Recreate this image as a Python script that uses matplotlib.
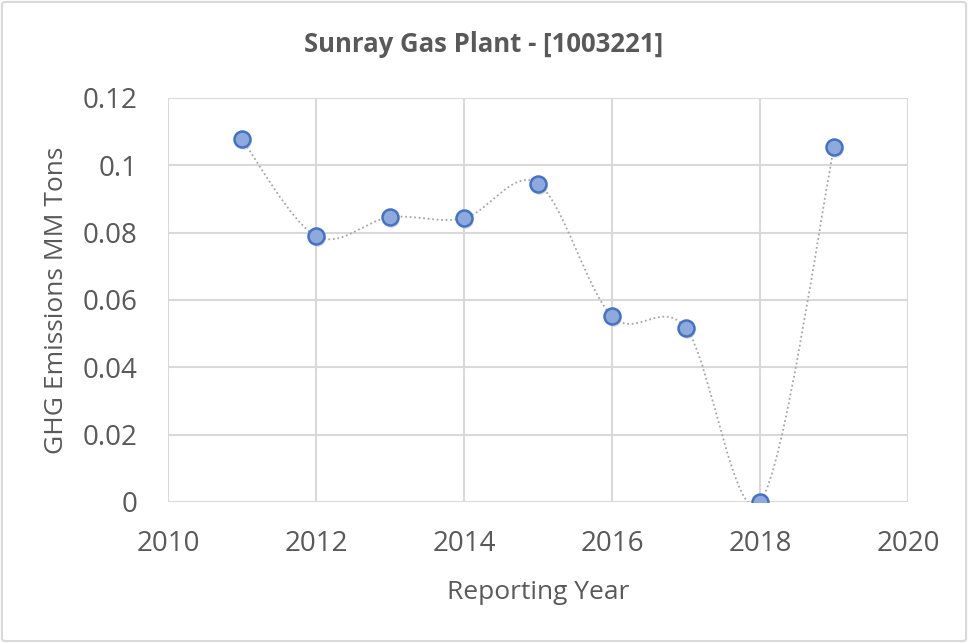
import matplotlib
matplotlib.use("Agg")
import matplotlib.pyplot as plt
import matplotlib.transforms as mtransforms
from matplotlib.path import Path
from matplotlib.patches import PathPatch, FancyBboxPatch
import numpy as np

# Datos
anios = [2011, 2012, 2013, 2014, 2015, 2016, 2017, 2018, 2019]
emisiones = [0.1077, 0.0790, 0.0846, 0.0843, 0.0946, 0.0552, 0.0516, 0.0, 0.1053]

titulo = "Sunray Gas Plant - [1003221]"
etiqueta_x = "Reporting Year"
etiqueta_y = "GHG Emissions MM Tons"

gris_texto = "#595959"
gris_rejilla = "#D9D9D9"

plt.rcParams['font.family'] = ['Open Sans', 'DejaVu Sans']

fig = plt.figure(figsize=(9.68, 6.43), dpi=100)
ax = fig.add_axes([168 / 968, 1 - 502 / 643, 740 / 968, 404 / 643])

# Borde exterior del grafico
borde = FancyBboxPatch((0.002, 0.003), 0.996, 0.994, boxstyle="round,pad=0,rounding_size=0.004",
                       transform=fig.transFigure, fill=False, edgecolor="#D9D9D9", linewidth=1.5)
fig.patches.append(borde)

# Linea suavizada tipo Excel (curvas Bezier entre puntos)
x = np.array(anios, dtype=float)
y = np.array(emisiones, dtype=float)
verts = [(x[0], y[0])]
codes = [Path.MOVETO]
n = len(x)
for i in range(n - 1):
    p0 = (x[i - 1], y[i - 1]) if i > 0 else (x[i], y[i])
    p1 = (x[i], y[i])
    p2 = (x[i + 1], y[i + 1])
    p3 = (x[i + 2], y[i + 2]) if i + 2 < n else p2
    c1 = (p1[0] + (p2[0] - p0[0]) / 6, p1[1] + (p2[1] - p0[1]) / 6)
    c2 = (p2[0] - (p3[0] - p1[0]) / 6, p2[1] - (p3[1] - p1[1]) / 6)
    verts += [c1, c2, p2]
    codes += [Path.CURVE4, Path.CURVE4, Path.CURVE4]
curva = PathPatch(Path(verts, codes), fill=False, edgecolor="#A6A6A6",
                  linewidth=1.3, linestyle=(0, (1, 1.5)), zorder=3)
ax.add_patch(curva)

# Sombra de los marcadores
sombra = ax.transData + mtransforms.ScaledTranslation(1 / 100, -2 / 100, fig.dpi_scale_trans)
ax.plot(anios, emisiones, linestyle="none", marker="o", markersize=12,
        markerfacecolor="#BBBBBB", markeredgecolor="none", alpha=0.5, zorder=3, transform=sombra)
ax.plot(anios, emisiones, linestyle="none", marker="o", markersize=11.5,
        markerfacecolor="#8EA9DB", markeredgecolor="#4472C4", markeredgewidth=1.8, zorder=4)

ax.set_xlim(2010, 2020)
ax.set_ylim(0, 0.12)
ax.set_xticks([2010, 2012, 2014, 2016, 2018, 2020])
ax.set_yticks([0, 0.02, 0.04, 0.06, 0.08, 0.1, 0.12])
ax.set_yticklabels(["0", "0.02", "0.04", "0.06", "0.08", "0.1", "0.12"])
ax.grid(True, color=gris_rejilla, linewidth=1.5)
ax.set_axisbelow(True)
for s in ax.spines.values():
    s.set_visible(False)
ax.tick_params(length=0, labelsize=20, labelcolor=gris_texto)
ax.tick_params(axis="y", pad=22)
ax.tick_params(axis="x", pad=20)

ax.set_xlabel(etiqueta_x, fontsize=19, color=gris_texto, labelpad=16)
ax.set_ylabel(etiqueta_y, fontsize=19, color=gris_texto, labelpad=10)
fig.text(0.5, 1 - 44 / 643, titulo, ha="center", va="center", fontsize=18.5,
         fontweight="bold", color=gris_texto)

fig.savefig("out.png", dpi=100)
